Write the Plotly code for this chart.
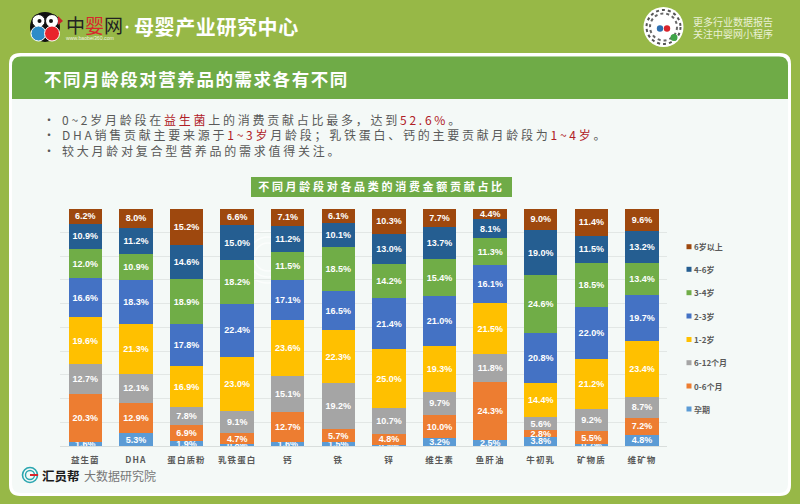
import json
import plotly.graph_objects as go

W, H = 800, 504
FONT = "Noto Sans CJK SC"
LATIN = "Liberation Sans"

categories = ["益生菌", "DHA", "蛋白质粉", "乳铁蛋白", "钙", "铁", "锌", "维生素", "鱼肝油", "牛初乳", "矿物质", "维矿物"]
s_preg = [1.6, 5.3, 1.9, 0.8, 1.6, 1.5, 0.4, 3.2, 2.5, 3.8, 0.7, 4.8]
s_0_6m = [20.3, 12.9, 6.9, 4.7, 12.7, 5.7, 4.8, 10.0, 24.3, 2.8, 5.5, 7.2]
s_6_12m = [12.7, 12.1, 7.8, 9.1, 15.1, 19.2, 10.7, 9.7, 11.8, 5.6, 9.2, 8.7]
s_1_2y = [19.6, 21.3, 16.9, 23.0, 23.6, 22.3, 25.0, 19.3, 21.5, 14.4, 21.2, 23.4]
s_2_3y = [16.6, 18.3, 17.8, 22.4, 17.1, 16.5, 21.4, 21.0, 16.1, 20.8, 22.0, 19.7]
s_3_4y = [12.0, 10.9, 18.9, 18.2, 11.5, 18.5, 14.2, 15.4, 11.3, 24.6, 18.5, 13.4]
s_4_6y = [10.9, 11.2, 14.6, 15.0, 11.2, 10.1, 13.0, 13.7, 8.1, 19.0, 11.5, 13.2]
s_6p = [6.2, 8.0, 15.2, 6.6, 7.1, 6.1, 10.3, 7.7, 4.4, 9.0, 11.4, 9.6]

series_names = ["孕期", "0-6个月", "6-12个月", "1-2岁", "2-3岁", "3-4岁", "4-6岁", "6岁以上"]
series_values = [s_preg, s_0_6m, s_6_12m, s_1_2y, s_2_3y, s_3_4y, s_4_6y, s_6p]
series_colors = ["#5B9BD5", "#ED7D31", "#A5A5A5", "#FFC000", "#4472C4", "#70AD47", "#255E91", "#9E480E"]

chart_title = "不同月龄段对各品类的消费金额贡献占比"
header_title = "不同月龄段对营养品的需求各有不同"
RED = "#B02026"
GREY = "#595959"
bullets = [
    f'0~2岁月龄段在<span style="color:{RED}">益生菌</span>上的消费贡献占比最多，达到<span style="color:{RED}">52.6%</span>。',
    f'DHA销售贡献主要来源于<span style="color:{RED}">1~3岁</span>月龄段；乳铁蛋白、钙的主要贡献月龄段为<span style="color:{RED}">1~4岁</span>。',
    "较大月龄对复合型营养品的需求值得关注。",
]


def X(p):
    return p / W


def Y(p):
    return 1 - p / H


def rect(x0, y0, x1, y1, color, **kw):
    return dict(type="rect", xref="paper", yref="paper", x0=X(x0), x1=X(x1), y0=Y(y0), y1=Y(y1),
                fillcolor=color, line_width=0, layer="below", **kw)


def circle(cx, cy, r, color, line=None, lw=0, dash=None):
    ln = dict(width=lw, color=line or color)
    if dash:
        ln["dash"] = dash
    return dict(type="circle", xref="paper", yref="paper", x0=X(cx - r), x1=X(cx + r), y0=Y(cy - r), y1=Y(cy + r),
                fillcolor=color, line=ln, layer="below")


def rounded(x0, y0, x1, y1, r, color, top_only=False):
    def p(x, y):
        return f"{X(x)},{Y(y)}"
    rb = 0 if top_only else r
    path = (f"M{p(x0 + r, y0)} L{p(x1 - r, y0)} Q{p(x1, y0)} {p(x1, y0 + r)} L{p(x1, y1 - rb)} "
            f"Q{p(x1, y1)} {p(x1 - rb, y1)} L{p(x0 + rb, y1)} Q{p(x0, y1)} {p(x0, y1 - rb)} "
            f"L{p(x0, y0 + r)} Q{p(x0, y0)} {p(x0 + r, y0)} Z")
    return dict(type="path", xref="paper", yref="paper", path=path, fillcolor=color, line_width=0, layer="below")


annotations = []
spacing = {}


def text(x, y, s, size, color, bold=False, family=FONT, anchor="left", ls=None):
    if ls:
        spacing[len(annotations)] = ls
    annotations.append(dict(xref="paper", yref="paper", x=X(x), y=Y(y), text=s, showarrow=False,
                            xanchor=anchor, yanchor="middle", align=anchor, borderpad=0,
                            font=dict(size=size, color=color, family=family, weight="bold" if bold else "normal")))


shapes = [
    rounded(9, 53, 791, 496, 11, "#FFFFFF"),
    rounded(12, 56.5, 788, 493, 9, "#F4F9F7"),
    rounded(12, 56.5, 788, 99, 9, "#6FAB47", top_only=True),
    rect(251, 177, 512, 197, "#6FAB47"),
]
# faint watermark rings
for r_ in (26, 20, 14):
    shapes.append(circle(268, 257, r_, "rgba(0,0,0,0)", "#FBFDFC", 1.5))
# logo
shapes += [
    circle(45, 27, 15, "#111111"),
    circle(38.5, 21, 6.5, "#FFFFFF", "#111111", 1),
    circle(52, 21, 6.5, "#FFFFFF", "#111111", 1),
    circle(39.5, 21, 2, "#111111"),
    circle(51, 21, 2, "#111111"),
    circle(38.5, 33.5, 7.5, "#2D8CC8", "#FFFFFF", 1),
    circle(52, 33.5, 7.5, "#E8242C", "#FFFFFF", 1),
    dict(type="path", xref="paper", yref="paper", layer="below", line_width=0, fillcolor="#C8242C",
         path=f"M{X(58)},{Y(16)} L{X(63)},{Y(21)} L{X(58)},{Y(25)} Z"),
    circle(127, 27, 1.5, "#FFFFFF"),
]
# mini-program code
shapes += [
    circle(663.5, 27, 20, "#FFFFFF"),
    circle(663.5, 27, 17, "rgba(0,0,0,0)", "#555555", 2, "dot"),
    circle(663.5, 27, 13.5, "rgba(0,0,0,0)", "#666666", 2, "dot"),
    circle(663.5, 27, 9, "#FFFFFF"),
    circle(660, 28.5, 3.2, "#2D6FB0"),
    circle(667, 28.5, 3.2, "#D8242C"),
    circle(674, 37.5, 3.5, "#3FA548"),
]
# footer logo
shapes += [
    circle(30, 475, 7.5, "rgba(0,0,0,0)", "#2AA6B0", 1.6),
    circle(30, 475, 4.5, "rgba(0,0,0,0)", "#2AA6B0", 1.4),
    rect(30, 474, 38, 476, "#D8242C"),
]

text(65, 24.5, '<span style="color:#222222">中</span><span style="color:#D8242C">婴</span><span style="color:#222222">网</span>', 19, "#222222")
text(65, 38, "www.baobei360.com", 5.2, "#F0F4E0", family=LATIN)
text(133, 26, "母婴产业研究中心", 20, "#FFFFFF", bold=True, ls=0.6)
text(692, 22, "更多行业数据报告", 10, "#EAF1D5")
text(692, 34, "关注中婴网小程序", 10, "#EAF1D5")
text(43, 78, header_title, 17.5, "#FFFFFF", bold=True, ls=1.55)
for i, (b, yy) in enumerate(zip(bullets, (119, 135, 150))):
    text(42, yy, "•", 12, GREY)
    text(61, yy, b, 12, GREY, ls=2.75)
text(41, 475, "汇员帮", 12.5, "#1A1A1A", bold=True)
text(83, 475, "大数据研究院", 12, "#777777")

# hand-placed legend so that its swatches and spacing match the source chart
leg_ys = [409, 386, 362.7, 339.5, 316, 292.7, 269.3, 246.7]
for name, col, ly in zip(series_names, series_colors, leg_ys):
    shapes.append(rect(686.5, ly - 2.5, 691.5, ly + 2.5, col))
    text(693, ly, name, 8, GREY, bold=True)

fig = go.Figure()
for name, vals, col in zip(series_names, series_values, series_colors):
    fig.add_trace(go.Bar(
        name=name, x=categories, y=vals, marker=dict(color=col, line_width=0),
        texttemplate="%{y:.1f}%", textposition="inside", textangle=0, constraintext="none",
        insidetextanchor="middle", cliponaxis=True,
        textfont=dict(family=LATIN, size=9, color="#FFFFFF", weight="bold"),
        hoverinfo="x+y+name",
    ))

fig.update_layout(
    width=W, height=H, autosize=False, barmode="stack", bargap=0.34, showlegend=False,
    margin=dict(l=0, r=0, t=0, b=0, pad=0),
    paper_bgcolor="#97B847", plot_bgcolor="rgba(0,0,0,0)",
    font=dict(family=FONT),
    title=dict(text=chart_title, x=381.5 / W, y=Y(187), xref="paper", yref="paper", xanchor="center",
               yanchor="middle", pad=dict(t=0, b=0, l=0, r=0),
               font=dict(size=11, color="#FFFFFF", family=FONT, weight="bold")),
    xaxis=dict(domain=[X(60), X(667.3)], type="category", showgrid=False, showline=True, linecolor="#D9DEDC", linewidth=1,
               ticks="", tickangle=0, ticklen=0, ticklabelstandoff=6,
               tickfont=dict(size=8.5, color=GREY, family=FONT, weight="bold")),
    yaxis=dict(domain=[Y(446), Y(208.6)], range=[0, 100], dtick=10, showticklabels=False, showgrid=True,
               gridcolor="#E2E7E5", gridwidth=1, zeroline=False, showline=False, ticks=""),
    shapes=shapes, annotations=annotations,
)

post = """
document.body.style.margin='0';
var ls=%s;
function applyLS(){
  document.querySelectorAll('g.annotation').forEach(function(g){
    var v=ls[g.getAttribute('data-index')];
    if(v){var t=g.querySelector('text');if(t){t.style.letterSpacing=v+'px';}}
  });
  document.querySelectorAll('.xtick text').forEach(function(t){t.style.letterSpacing='1.1px';});
  var gt=document.querySelector('.gtitle');if(gt){gt.style.letterSpacing='2.7px';}
}
applyLS();setTimeout(applyLS,60);
""" % json.dumps(spacing)

fig.write_html("out.html", post_script=post, config=dict(displayModeBar=False))
